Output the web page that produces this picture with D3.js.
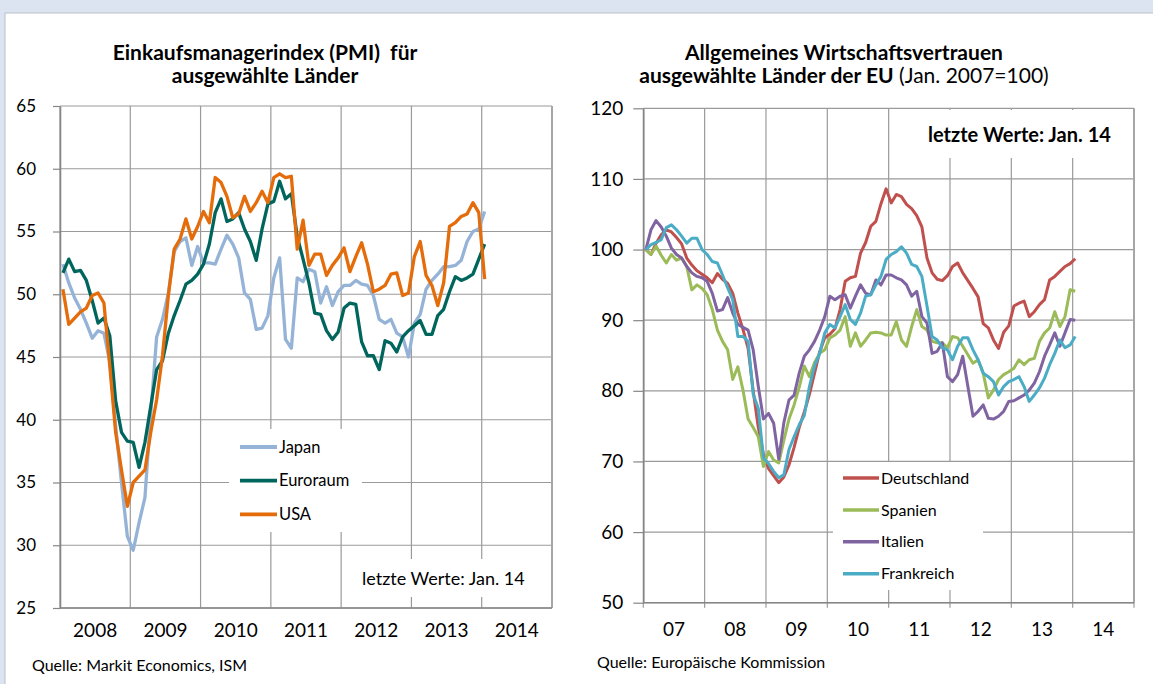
<!DOCTYPE html>
<html>
<head>
<meta charset="utf-8">
<script src="https://cdn.jsdelivr.net/npm/d3@7"></script>
<style>
body { margin: 0; background: #fff; }
text { font-family: Lato, "Open Sans", sans-serif; fill: #000; }
</style>
</head>
<body>
<div id="vis"></div>
<script>
// Einkaufsmanagerindex, monthly Jan 2008 - Jan 2014
const pmiYears = ["2008", "2009", "2010", "2011", "2012", "2013", "2014"];
const pmiTicks = [25, 30, 35, 40, 45, 50, 55, 60, 65];
const japan = [52.4, 50.9, 49.7, 48.8, 47.7, 46.5, 47.1, 46.9, 44.6, 39.5,
    35.0, 30.7, 29.6, 31.8, 33.8, 40.5, 46.6, 48.0, 50.1, 53.4,
    54.2, 54.5, 52.3, 53.8, 52.5, 52.5, 52.4, 53.6, 54.7, 54.0,
    52.9, 50.1, 49.6, 47.2, 47.3, 48.3, 51.3, 52.9, 46.4, 45.7,
    51.3, 51.0, 52.0, 51.8, 49.3, 50.6, 49.1, 50.2, 50.7, 50.7,
    51.1, 50.8, 50.7, 49.9, 48.0, 47.7, 48.0, 46.9, 46.6, 45.0,
    47.7, 48.4, 50.4, 51.1, 51.6, 52.2, 52.2, 52.3, 52.7, 54.2,
    55.0, 55.2, 56.6];
const euroraum = [51.7, 52.8, 51.8, 51.9, 51.1, 49.5, 47.7, 48.1, 46.7, 41.5,
    39.0, 38.3, 38.2, 36.2, 38.2, 41.1, 44.0, 44.7, 46.9, 48.3,
    49.5, 50.8, 51.1, 51.6, 52.4, 54.0, 56.5, 57.6, 55.8, 56.0,
    56.5, 55.2, 54.2, 52.7, 55.2, 57.2, 57.4, 59.0, 57.6, 58.0,
    54.6, 52.8, 50.9, 48.5, 48.4, 47.1, 46.4, 47.0, 48.9, 49.3,
    49.2, 46.2, 45.1, 45.1, 44.0, 46.3, 46.1, 45.4, 46.6, 47.1,
    47.5, 47.9, 46.8, 46.8, 48.3, 48.8, 50.2, 51.4, 51.1, 51.3,
    51.6, 52.8, 54.0];
const usa = [50.4, 47.6, 48.1, 48.6, 48.9, 49.9, 50.1, 49.3, 44.3, 39.0,
    36.0, 33.1, 35.0, 35.5, 36.0, 39.0, 41.6, 45.1, 49.9, 53.6,
    54.4, 56.0, 54.4, 55.4, 56.6, 55.7, 59.3, 58.9, 57.8, 56.1,
    56.4, 57.8, 56.6, 57.3, 58.2, 57.3, 59.3, 59.6, 59.3, 59.4,
    53.6, 55.9, 52.3, 53.2, 53.2, 51.5, 52.3, 52.9, 53.7, 51.8,
    53.0, 54.1, 52.4, 50.2, 50.4, 50.7, 51.6, 51.7, 49.9, 50.1,
    53.0, 54.2, 51.5, 50.7, 49.1, 50.9, 55.4, 55.7, 56.2, 56.4,
    57.3, 56.5, 51.2];

// Wirtschaftsvertrauen, monthly Jan 2007 - Jan 2014 (Jan. 2007 = 100)
const esiYears = ["07", "08", "09", "10", "11", "12", "13", "14"];
const esiTicks = [50, 60, 70, 80, 90, 100, 110, 120];
const deutschland = [100.0, 99.3, 100.9, 102.1, 102.8, 102.5, 101.7, 100.8, 98.8, 97.8,
    97.0, 96.5, 96.0, 95.3, 96.6, 95.8, 95.2, 93.8, 91.0, 88.7,
    86.0, 80.0, 74.8, 71.0, 69.0, 68.0, 67.0, 67.8, 69.5, 72.0,
    74.8, 77.0, 79.5, 82.5, 85.5, 87.5, 88.0, 88.8, 91.5, 95.5,
    96.0, 96.2, 99.5, 101.0, 103.3, 104.0, 106.5, 108.6, 106.6, 107.8,
    107.5, 106.4, 105.8, 104.8, 103.2, 98.8, 96.7, 95.8, 95.6, 96.3,
    97.6, 98.1, 96.7, 95.6, 94.5, 93.3, 89.5, 88.9, 87.2, 86.0,
    88.3, 89.2, 92.0, 92.4, 92.7, 90.5, 91.2, 92.2, 92.9, 95.7,
    96.2, 96.9, 97.6, 98.0, 98.7];
const spanien = [100.0, 99.3, 100.5, 99.2, 98.1, 99.3, 98.5, 98.8, 97.6, 94.3,
    95.0, 94.5, 93.6, 91.5, 88.6, 87.0, 85.8, 81.6, 83.4, 80.1,
    76.0, 74.8, 73.5, 69.3, 71.4, 70.2, 69.8, 73.0, 76.0, 78.0,
    80.5, 83.5, 82.0, 84.0, 85.3, 85.8, 87.5, 87.9, 88.6, 90.5,
    86.3, 88.2, 86.3, 87.2, 88.2, 88.3, 88.2, 87.9, 87.9, 89.8,
    87.2, 86.3, 89.1, 91.5, 89.1, 88.6, 87.0, 86.8, 86.8, 86.1,
    87.7, 87.5, 86.3, 85.1, 83.9, 84.4, 82.5, 79.0, 80.1, 81.6,
    82.3, 82.7, 83.2, 84.4, 83.7, 84.4, 84.6, 87.0, 88.2, 88.9,
    91.2, 89.1, 90.5, 94.3, 94.1];
const italien = [100.0, 102.8, 104.1, 103.2, 101.9, 100.2, 99.3, 98.8, 97.6, 96.7,
    96.2, 96.0, 95.5, 93.8, 91.3, 91.5, 93.2, 91.0, 89.4, 89.0,
    88.6, 85.8, 80.6, 76.0, 76.8, 75.4, 70.3, 75.5, 78.7, 79.4,
    82.5, 84.9, 85.8, 87.0, 88.6, 90.5, 93.4, 92.9, 93.4, 93.6,
    91.7, 93.4, 95.0, 93.8, 93.6, 95.7, 95.0, 96.4, 96.4, 96.0,
    95.7, 95.0, 93.4, 94.1, 90.5, 89.6, 85.3, 85.6, 86.8, 82.0,
    81.3, 82.3, 84.9, 80.6, 76.4, 77.1, 78.0, 76.1, 76.0, 76.4,
    77.1, 78.5, 78.6, 79.0, 79.4, 80.1, 81.1, 82.7, 84.9, 86.5,
    88.2, 86.3, 88.2, 90.1, 90.0];
const frankreich = [100.0, 100.7, 101.0, 101.4, 103.1, 103.5, 102.8, 101.9, 100.9, 101.6,
    101.6, 100.0, 99.3, 98.3, 98.1, 96.4, 94.6, 92.9, 87.7, 87.7,
    87.0, 79.5, 77.5, 70.5, 69.7, 68.6, 67.7, 68.1, 71.7, 73.5,
    75.2, 76.5, 80.6, 83.5, 85.3, 88.2, 89.4, 88.9, 90.5, 92.2,
    90.1, 89.4, 91.0, 93.4, 93.6, 95.0, 96.2, 98.6, 99.3, 99.7,
    100.4, 99.5, 97.9, 97.6, 96.2, 92.0, 87.7, 87.2, 86.1, 85.8,
    84.4, 86.3, 87.5, 87.5, 85.8, 84.4, 82.5, 82.0, 81.3, 79.4,
    80.6, 81.3, 81.6, 82.0, 80.6, 78.5, 79.4, 80.4, 81.8, 83.7,
    85.3, 87.2, 86.1, 86.5, 87.7];

const WIDTH = 1153;
const HEIGHT = 684;
const GRID = "#9a9a9a";
const AXIS = "#868686";
const fmt = d3.timeFormat("%Y-%m");

const svg = d3.select("#vis")
    .append("svg")
    .attr("width", WIDTH)
    .attr("height", HEIGHT);

// light blue page frame with white sheet
svg.append("rect")
    .attr("width", WIDTH).attr("height", HEIGHT)
    .attr("fill", "#dbe4f0");
svg.append("rect")
    .attr("x", 5).attr("y", 13)
    .attr("width", WIDTH).attr("height", HEIGHT)
    .attr("fill", "#fff")
    .attr("stroke", "#b9bfc8");

function drawPanel(p) {
    const months = d3.timeMonths(p.start, p.end).map(fmt);
    const x = d3.scaleBand().domain(months).range([p.left, p.right]);
    const bw = x.bandwidth();
    const y = d3.scaleLinear()
        .domain([p.ticks[0], p.ticks[p.ticks.length - 1]])
        .range([p.bottom, p.top]);
    const g = svg.append("g");

    // horizontal gridlines
    g.selectAll(".hgrid")
        .data(p.ticks)
        .enter()
        .append("line")
        .attr("x1", p.left).attr("x2", p.right)
        .attr("y1", d => y(d)).attr("y2", d => y(d))
        .attr("stroke", GRID).attr("stroke-width", 1.2);

    // vertical gridlines on year boundaries
    const yearStarts = months.filter(m => m.endsWith("-01"));
    g.selectAll(".vgrid")
        .data(yearStarts.map(m => x(m)).concat([p.right]))
        .enter()
        .append("line")
        .attr("x1", d => d).attr("x2", d => d)
        .attr("y1", p.top).attr("y2", p.bottom + p.xTick)
        .attr("stroke", GRID).attr("stroke-width", 1.2);

    // right border
    g.append("line")
        .attr("x1", p.right).attr("x2", p.right)
        .attr("y1", p.top).attr("y2", p.bottom)
        .attr("stroke", "#a6a6a6").attr("stroke-width", 2);

    // y axis
    const yAxis = g.append("g")
        .attr("transform", "translate(" + p.left + ",0)")
        .call(d3.axisLeft(y).tickValues(p.ticks).tickSize(p.yTick).tickSizeOuter(0).tickPadding(p.yPad));
    yAxis.select(".domain").attr("stroke", AXIS).attr("stroke-width", 1.6);
    yAxis.selectAll(".tick line").attr("stroke", AXIS).attr("stroke-width", 1.2);
    yAxis.selectAll("text")
        .attr("font-size", p.yFont)
        .attr("font-family", "Lato")
        .attr("fill", "#000");

    // x axis line
    g.append("line")
        .attr("x1", p.left).attr("x2", p.right)
        .attr("y1", p.bottom).attr("y2", p.bottom)
        .attr("stroke", AXIS).attr("stroke-width", 1.6);

    // year labels
    g.selectAll(".year")
        .data(p.years)
        .enter()
        .append("text")
        .attr("x", (d, i) => x(yearStarts[i]) + 6 * bw)
        .attr("y", p.bottom + p.yearDy)
        .attr("text-anchor", "middle")
        .attr("font-size", p.xFont)
        .text(d => d);

    // series lines
    const line = d3.line()
        .x((d, i) => x(months[i]) + bw / 2)
        .y(d => y(d))
        .curve(d3.curveLinear);

    g.selectAll(".series")
        .data(p.series)
        .enter()
        .append("path")
        .attr("d", d => line(d.values))
        .attr("fill", "none")
        .attr("stroke", d => d.color)
        .attr("stroke-width", p.lineWidth)
        .attr("stroke-linejoin", "round");

    // legend
    const lg = p.legend;
    g.append("rect")
        .attr("x", lg.x).attr("y", lg.y)
        .attr("width", lg.w).attr("height", lg.h)
        .attr("fill", "#fff");
    const items = g.selectAll(".legend")
        .data(p.series)
        .enter()
        .append("g")
        .attr("transform", (d, i) => "translate(0," + (lg.firstY + i * lg.step) + ")");
    items.append("line")
        .attr("x1", lg.lineX).attr("x2", lg.lineX + lg.lineLen)
        .attr("stroke", d => d.color)
        .attr("stroke-width", p.lineWidth + 0.5);
    items.append("text")
        .attr("x", lg.lineX + lg.lineLen + 2)
        .attr("dy", "0.35em")
        .attr("font-size", lg.size)
        .text(d => d.name);

    // note box
    const nt = p.note;
    g.append("rect")
        .attr("x", nt.x).attr("y", nt.y)
        .attr("width", nt.w).attr("height", nt.h)
        .attr("fill", "#fff");
    g.append("text")
        .attr("x", nt.tx).attr("y", nt.ty)
        .attr("font-size", nt.size)
        .attr("font-weight", nt.bold ? "bold" : "normal")
        .text("letzte Werte: Jan. 14");
}

drawPanel({
    start: new Date(2008, 0, 1), end: new Date(2015, 0, 1),
    left: 60, right: 552, top: 106, bottom: 608,
    ticks: pmiTicks, years: pmiYears,
    yTick: 7, yPad: 17, yFont: 17, xFont: 19, xTick: 0, yearDy: 29,
    lineWidth: 3.3,
    series: [
        { name: "Japan", values: japan, color: "#95b3d7" },
        { name: "Euroraum", values: euroraum, color: "#00665d" },
        { name: "USA", values: usa, color: "#e46c0a" }
    ],
    legend: { x: 229, y: 429, w: 133, h: 103, firstY: 447, step: 33.7, lineX: 240, lineLen: 37, size: 16.5 },
    note: { x: 352, y: 559, w: 190, h: 38, tx: 362, ty: 585, size: 18, bold: false }
});

drawPanel({
    start: new Date(2007, 0, 1), end: new Date(2015, 0, 1),
    left: 643.3, right: 1134, top: 108.3, bottom: 602.7,
    ticks: esiTicks, years: esiYears,
    yTick: 10, yPad: 10, yFont: 19, xFont: 19, xTick: 5, yearDy: 33,
    lineWidth: 3,
    series: [
        { name: "Deutschland", values: deutschland, color: "#c0504d" },
        { name: "Spanien", values: spanien, color: "#9bbb59" },
        { name: "Italien", values: italien, color: "#8064a2" },
        { name: "Frankreich", values: frankreich, color: "#4bacc6" }
    ],
    legend: { x: 833, y: 462, w: 150, h: 128, firstY: 478, step: 31.9, lineX: 843, lineLen: 36, size: 16 },
    note: { x: 918, y: 110, w: 205, h: 48, tx: 928, ty: 142, size: 20, bold: true }
});

// titles
svg.append("text")
    .attr("x", 265).attr("y", 59.5)
    .attr("text-anchor", "middle")
    .attr("font-size", 21).attr("font-weight", "bold")
    .style("white-space", "pre")
    .text("Einkaufsmanagerindex (PMI)  für");
svg.append("text")
    .attr("x", 265).attr("y", 82.5)
    .attr("text-anchor", "middle")
    .attr("font-size", 21).attr("font-weight", "bold")
    .text("ausgewählte Länder");

svg.append("text")
    .attr("x", 844).attr("y", 59.5)
    .attr("text-anchor", "middle")
    .attr("font-size", 21).attr("font-weight", "bold")
    .text("Allgemeines Wirtschaftsvertrauen");
const t2 = svg.append("text")
    .attr("x", 844).attr("y", 82.5)
    .attr("text-anchor", "middle")
    .attr("font-size", 21);
t2.append("tspan").attr("font-weight", "bold").text("ausgewählte Länder der EU");
t2.append("tspan").text(" (Jan. 2007=100)");

// sources
svg.append("text")
    .attr("x", 32).attr("y", 671)
    .attr("font-size", 16)
    .text("Quelle: Markit Economics, ISM");
svg.append("text")
    .attr("x", 597).attr("y", 668)
    .attr("font-size", 16)
    .text("Quelle: Europäische Kommission");
</script>
</body>
</html>
